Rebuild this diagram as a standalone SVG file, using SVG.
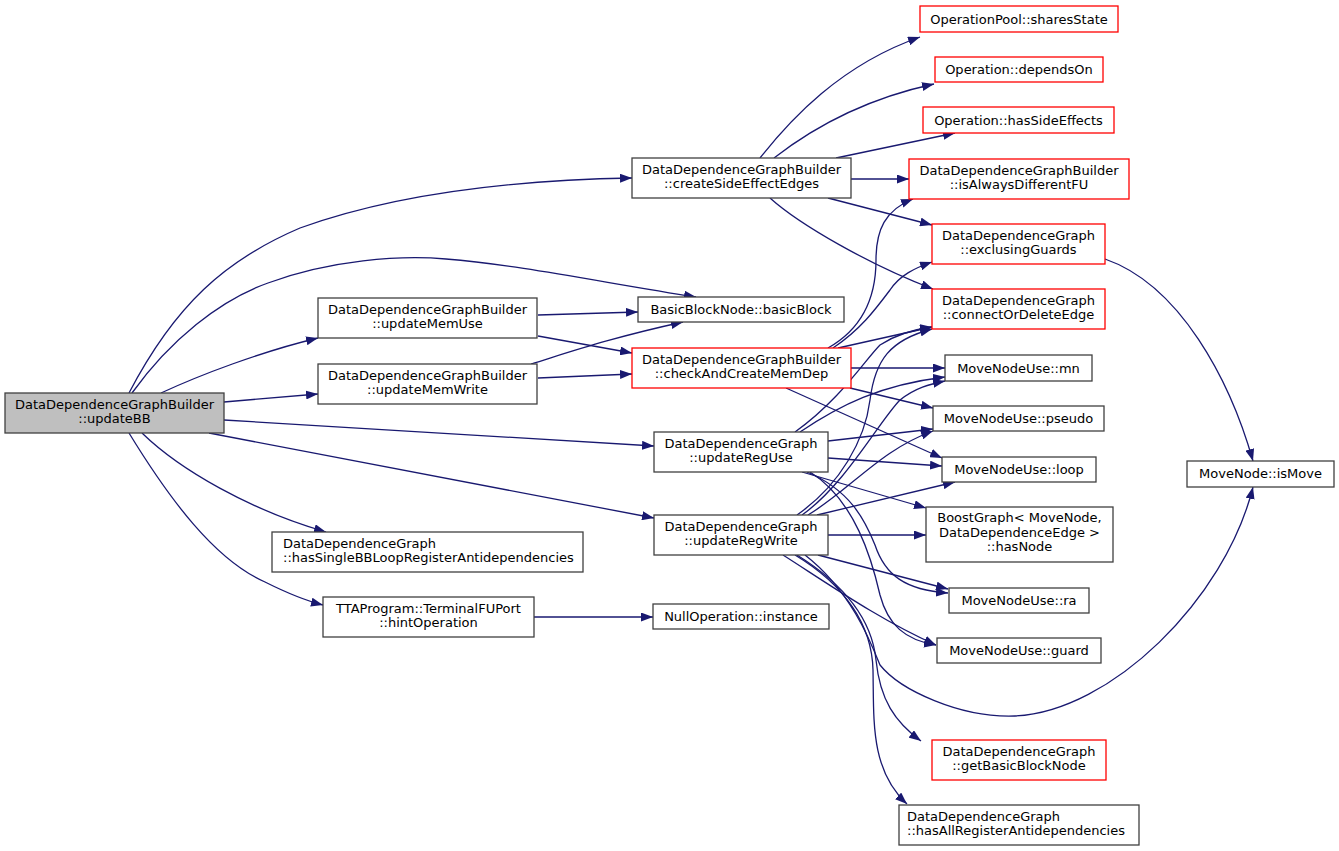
<svg xmlns="http://www.w3.org/2000/svg" width="1339" height="851" viewBox="0 0 1339 851">
<style>
.n rect{fill:#ffffff;stroke:#404040;stroke-width:1.3}
.n.r rect{stroke:#ff0000}
.n.root rect{fill:#bfbfbf}
text{font-family:"DejaVu Sans","Liberation Sans",sans-serif;font-size:13px;fill:#000}
.c{text-anchor:middle}
#edges path{fill:none;stroke:#191970;stroke-width:1.3;marker-end:url(#a)}
</style>
<defs>
<marker id="a" markerWidth="12" markerHeight="9" refX="12" refY="4.5" orient="auto" markerUnits="userSpaceOnUse"><path d="M0,0 L12,4.5 L0,9 z" fill="#191970"/></marker>
</defs>
<rect width="1339" height="851" fill="#ffffff"/>
<g id="edges">
<path d="M129,393 C175,305 225,260 300,228 C400,192 520,180 632,178"/>
<path d="M132,393 C170,340 220,300 268,283 C330,260 400,255 446,259 C520,265 600,282 696,297"/>
<path d="M161,393 C200,375 260,352 318,338"/>
<path d="M224,402 L318,394"/>
<path d="M224,420 L654,446"/>
<path d="M209,433 L654,518"/>
<path d="M142,433 C180,470 250,510 326,532"/>
<path d="M129,433 C170,500 215,560 265,582 C285,592 303,600 323,605"/>
<path d="M538,315 L638,312"/>
<path d="M538,336 L632,353"/>
<path d="M531,364 C570,352 610,338 683,322"/>
<path d="M538,378 L632,374"/>
<path d="M534,617 L653,617"/>
<path d="M760,158 C790,120 840,65 920,37"/>
<path d="M774,158 C810,130 860,100 934,84"/>
<path d="M836,158 L955,133"/>
<path d="M851,179 L909,179"/>
<path d="M828,198 L932,225"/>
<path d="M770,198 C800,225 870,265 933,289"/>
<path d="M828,348 C860,330 876,300 876,260 C876,230 885,210 913,199"/>
<path d="M833,348 C860,330 875,310 890,290 C900,275 915,268 932,262"/>
<path d="M838,348 L932,327"/>
<path d="M851,368 L945,368"/>
<path d="M850,388 L933,408"/>
<path d="M786,388 L942,458"/>
<path d="M1105,259 C1180,285 1230,380 1253,461"/>
<path d="M795,432 C840,400 865,360 880,345 C895,335 910,330 932,327"/>
<path d="M800,432 C840,405 880,385 945,377"/>
<path d="M828,441 L933,429"/>
<path d="M828,458 L942,466"/>
<path d="M802,472 L926,508"/>
<path d="M807,472 C850,490 865,520 875,545 C885,575 905,590 948,593"/>
<path d="M810,472 C855,500 872,560 880,595 C888,625 905,640 936,645"/>
<path d="M797,515 C840,485 865,440 870,400 C875,360 890,340 932,329"/>
<path d="M802,515 C845,485 880,420 900,400 C915,388 930,384 945,381"/>
<path d="M808,515 C850,490 880,450 933,431"/>
<path d="M817,515 L955,482"/>
<path d="M828,535 L926,535"/>
<path d="M818,555 L948,589"/>
<path d="M783,555 C830,585 880,620 936,645"/>
<path d="M797,555 C845,585 872,620 876,660 C880,700 895,722 921,741"/>
<path d="M795,555 C845,585 872,625 873,670 C874,720 870,770 907,804"/>
<path d="M805,555 C850,590 870,640 880,665 C900,690 960,718 1015,716 C1110,712 1225,600 1253,487"/>
</g>
<g id="n0" class="n root"><rect x="5" y="393" width="219" height="40"/><text class="c" x="114.5" y="408.5">DataDependenceGraphBuilder</text><text class="c" x="114.5" y="423">::updateBB</text></g>
<g id="n1" class="n"><rect x="632" y="158" width="219" height="40"/><text class="c" x="741.5" y="173.5">DataDependenceGraphBuilder</text><text class="c" x="741.5" y="188">::createSideEffectEdges</text></g>
<g id="n2" class="n r"><rect x="920" y="6" width="198" height="26"/><text class="c" x="1019" y="23.5">OperationPool::sharesState</text></g>
<g id="n3" class="n r"><rect x="935" y="57" width="168" height="25"/><text class="c" x="1019" y="74">Operation::dependsOn</text></g>
<g id="n4" class="n r"><rect x="923" y="107" width="191" height="26"/><text class="c" x="1018.5" y="124.5">Operation::hasSideEffects</text></g>
<g id="n5" class="n r"><rect x="909" y="159" width="220" height="40"/><text class="c" x="1019" y="174.5">DataDependenceGraphBuilder</text><text class="c" x="1019" y="189">::isAlwaysDifferentFU</text></g>
<g id="n6" class="n r"><rect x="932" y="224" width="173" height="40"/><text class="c" x="1018.5" y="239.5">DataDependenceGraph</text><text class="c" x="1018.5" y="254">::exclusingGuards</text></g>
<g id="n7" class="n r"><rect x="932" y="289" width="173" height="40"/><text class="c" x="1018.5" y="304.5">DataDependenceGraph</text><text class="c" x="1018.5" y="319">::connectOrDeleteEdge</text></g>
<g id="n8" class="n"><rect x="638" y="297" width="206" height="25"/><text class="c" x="741" y="314">BasicBlockNode::basicBlock</text></g>
<g id="n9" class="n r"><rect x="632" y="348" width="219" height="40"/><text class="c" x="741.5" y="363.5">DataDependenceGraphBuilder</text><text class="c" x="741.5" y="378">::checkAndCreateMemDep</text></g>
<g id="n10" class="n"><rect x="945" y="355" width="147" height="26"/><text class="c" x="1018.5" y="372.5">MoveNodeUse::mn</text></g>
<g id="n11" class="n"><rect x="933" y="406" width="171" height="25"/><text class="c" x="1018.5" y="423">MoveNodeUse::pseudo</text></g>
<g id="n12" class="n"><rect x="942" y="457" width="154" height="25"/><text class="c" x="1019" y="474">MoveNodeUse::loop</text></g>
<g id="n13" class="n"><rect x="926" y="507" width="187" height="55"/><text class="c" x="1019.5" y="522">BoostGraph&lt; MoveNode,</text><text class="c" x="1019.5" y="537">DataDependenceEdge &gt;</text><text class="c" x="1019.5" y="551">::hasNode</text></g>
<g id="n14" class="n"><rect x="949" y="588" width="140" height="25"/><text class="c" x="1019" y="605">MoveNodeUse::ra</text></g>
<g id="n15" class="n"><rect x="937" y="638" width="164" height="25"/><text class="c" x="1019" y="655">MoveNodeUse::guard</text></g>
<g id="n16" class="n r"><rect x="932" y="740" width="174" height="40"/><text class="c" x="1019" y="755.5">DataDependenceGraph</text><text class="c" x="1019" y="770">::getBasicBlockNode</text></g>
<g id="n17" class="n"><rect x="899" y="805" width="240" height="40"/><text x="907" y="820.5">DataDependenceGraph</text><text x="907" y="835">::hasAllRegisterAntidependencies</text></g>
<g id="n18" class="n"><rect x="1187" y="461" width="147" height="26"/><text class="c" x="1260.5" y="478">MoveNode::isMove</text></g>
<g id="n19" class="n"><rect x="654" y="432" width="174" height="40"/><text class="c" x="741" y="447.5">DataDependenceGraph</text><text class="c" x="741" y="462">::updateRegUse</text></g>
<g id="n20" class="n"><rect x="654" y="515" width="174" height="40"/><text class="c" x="741" y="530.5">DataDependenceGraph</text><text class="c" x="741" y="545">::updateRegWrite</text></g>
<g id="n21" class="n"><rect x="653" y="604" width="176" height="25"/><text class="c" x="741" y="621">NullOperation::instance</text></g>
<g id="n22" class="n"><rect x="318" y="298" width="219" height="40"/><text class="c" x="427.5" y="313.5">DataDependenceGraphBuilder</text><text class="c" x="427.5" y="328">::updateMemUse</text></g>
<g id="n23" class="n"><rect x="318" y="364" width="219" height="40"/><text class="c" x="427.5" y="379.5">DataDependenceGraphBuilder</text><text class="c" x="427.5" y="394">::updateMemWrite</text></g>
<g id="n24" class="n"><rect x="272" y="532" width="311" height="40"/><text x="283" y="547.5">DataDependenceGraph</text><text x="283" y="562">::hasSingleBBLoopRegisterAntidependencies</text></g>
<g id="n25" class="n"><rect x="323" y="597" width="211" height="40"/><text class="c" x="428.5" y="612.5">TTAProgram::TerminalFUPort</text><text class="c" x="428.5" y="627">::hintOperation</text></g>
</svg>
